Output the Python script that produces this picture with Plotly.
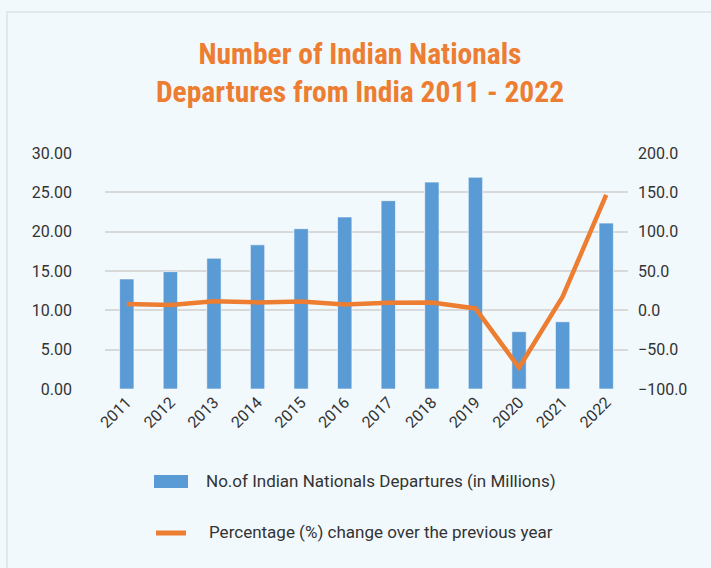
import plotly.graph_objects as go

years = ["2011", "2012", "2013", "2014", "2015", "2016", "2017", "2018", "2019", "2020", "2021", "2022"]
departures = [13.99, 14.92, 16.63, 18.33, 20.38, 21.87, 23.94, 26.30, 26.92, 7.29, 8.55, 21.09]
pct_change = [8.1, 6.7, 11.4, 10.1, 11.1, 7.3, 9.5, 9.8, 2.4, -72.9, 17.3, 146.7]

bar_name = "No.of Indian Nationals Departures (in Millions)"
line_name = "Percentage (%) change over the previous year"

BLUE = "#5b9bd5"
ORANGE = "#ed7d31"
BG = "#f2f9fd"
TXT = "#333333"

fig = go.Figure()
fig.add_trace(go.Bar(
    x=years, y=departures, name=bar_name, width=0.33,
    marker=dict(color=BLUE, line=dict(color="rgba(255,255,255,0.6)", width=1)),
    yaxis="y", showlegend=False,
))
fig.add_trace(go.Scatter(
    x=years, y=pct_change, name=line_name, mode="lines",
    line=dict(color=ORANGE, width=4.5), yaxis="y2", showlegend=False,
))

W, H = 711, 568
L, R, T, B = 105, 628, 153, 389
pw, ph = R - L, B - T

def px(x):
    return (x - L) / pw

def py(y):
    return (B - y) / ph

shapes = [
    # outer panel border
    dict(type="rect", xref="paper", yref="paper", x0=px(7), x1=px(760), y0=py(620), y1=py(12),
         line=dict(color="#dde1e5", width=1.5), fillcolor="rgba(0,0,0,0)", layer="below"),
    # legend keys
    dict(type="rect", xref="paper", yref="paper", x0=px(154), x1=px(188), y0=py(488), y1=py(475),
         line=dict(width=0), fillcolor=BLUE),
    dict(type="line", xref="paper", yref="paper", x0=px(156), x1=px(186), y0=py(533), y1=py(533),
         line=dict(color=ORANGE, width=5)),
]
annotations = [
    dict(text=bar_name, xref="paper", yref="paper", x=px(204), y=py(481), xanchor="left", yanchor="middle",
         showarrow=False, font=dict(family="Roboto", size=17, color=TXT)),
    dict(text=line_name, xref="paper", yref="paper", x=px(207), y=py(532), xanchor="left", yanchor="middle",
         showarrow=False, font=dict(family="Roboto", size=17, color=TXT)),
]

fig.update_layout(
    width=W, height=H,
    margin=dict(l=L, r=W - R, t=T, b=H - B),
    paper_bgcolor=BG, plot_bgcolor=BG,
    title=dict(
        text="<b>Number of Indian Nationals<br>Departures from India 2011 - 2022</b>",
        x=360 / W, xref="container", xanchor="center",
        y=1 - 64 / H, yref="container", yanchor="top",
        font=dict(family="Liberation Sans Narrow, Roboto Condensed, Roboto", size=29.5, color=ORANGE),
    ),
    xaxis=dict(
        type="category", tickangle=-45, showgrid=False, showline=False, ticks="",
        tickfont=dict(family="Roboto", size=16, color=TXT),
    ),
    yaxis=dict(
        range=[0, 30], dtick=5, tickformat=".2f", showgrid=True, gridcolor="#d9d9d9", gridwidth=1.5,
        zeroline=False, showline=False, ticks="", ticklabelstandoff=32,
        tickfont=dict(family="Roboto", size=16, color=TXT),
    ),
    yaxis2=dict(
        range=[-100, 200], dtick=50, tickformat=".1f", overlaying="y", side="right", showgrid=False,
        zeroline=False, showline=False, ticks="", ticklabelstandoff=9,
        tickfont=dict(family="Roboto", size=16, color=TXT),
    ),
    bargap=0.67,
    shapes=shapes, annotations=annotations,
    showlegend=False,
)

fig.write_html(
    "out.html",
    config={"displayModeBar": False},
    post_script="document.body.style.margin='0';document.body.style.background='" + BG + "';",
)
